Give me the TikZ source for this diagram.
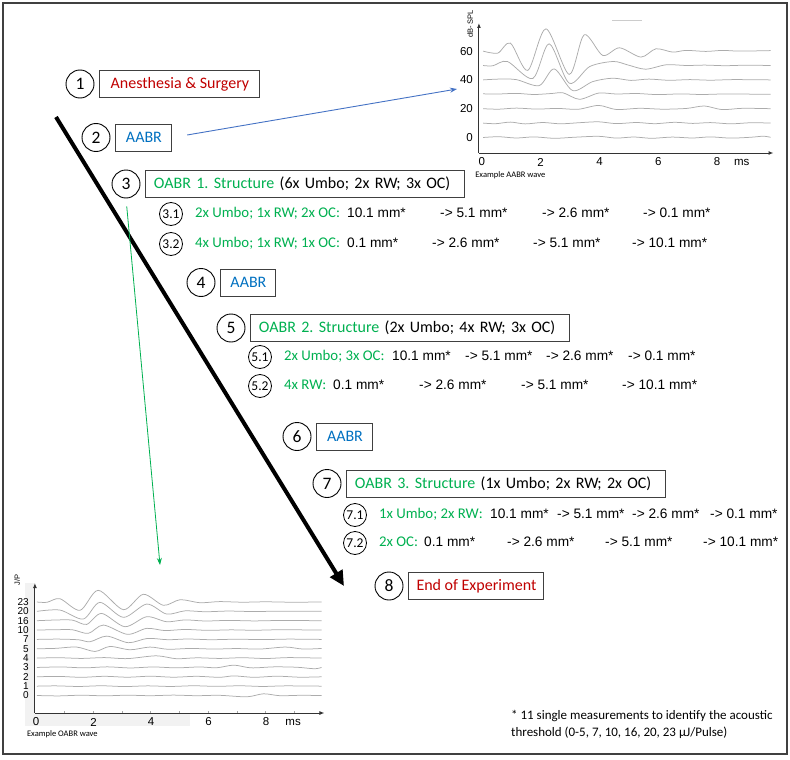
\documentclass[tikz,border=0pt]{standalone}
\usepackage{fontspec}
\setmainfont{Carlito}
\newfontfamily\arialfont{Liberation Sans}
\usepackage{xcolor}
\usetikzlibrary{arrows.meta,positioning}
\frenchspacing

\definecolor{stepred}{RGB}{192,0,0}
\definecolor{stepblue}{RGB}{0,112,192}
\definecolor{stepgreen}{RGB}{0,176,80}
\definecolor{linkblue}{RGB}{68,114,196}
\definecolor{wavegray}{RGB}{172,172,172}

\tikzset{
  stepnum/.style={circle, draw=black, line width=0.9pt, minimum size=28pt, inner sep=0pt, font=\fontsize{17.5}{20}\selectfont},
  subnum/.style={circle, draw=black, line width=0.8pt, minimum size=23pt, inner sep=0pt, font=\fontsize{13.5}{16}\selectfont},
  stepbox/.style={draw=black!75, line width=1pt, minimum height=27pt, inner sep=0pt, font=\fontsize{16}{19}\selectfont},
  structbox/.style={stepbox, text width=303pt, align=left, inner xsep=8pt},
  sublabel/.style={text=stepgreen, inner sep=0pt, text height=10pt, text depth=3pt, font=\fontsize{14.8}{17}\selectfont},
  measval/.style={anchor=west, inner sep=0pt, text height=10pt, text depth=3pt, font=\arialfont\fontsize{13.7}{16}\selectfont},
  wave/.style={wavegray, line width=0.75pt},
  plotaxis/.style={black!80, line width=1pt, -{Latex[length=5pt,width=4pt]}},
  aabrlabel/.style={inner sep=0pt, font=\arialfont\fontsize{11.5}{13}\selectfont},
  oabrlabel/.style={inner sep=0pt, font=\arialfont\fontsize{10}{11}\selectfont},
  axisname/.style={inner sep=0pt, rotate=90, font=\arialfont\fontsize{7.5}{8}\selectfont},
  plotcaption/.style={anchor=west, inner sep=0pt, font=\fontsize{8.5}{10}\selectfont},
  footnote/.style={anchor=north west, align=left, inner sep=0pt, font=\fontsize{13}{17}\selectfont},
}

\begin{document}
\begin{tikzpicture}[x=1pt, y=-1pt]
\useasboundingbox (0,0) rectangle (790,760);
\draw[black!75, line width=1.2pt] (3,3) rectangle (787,754);

% steps
\node[stepnum] (c1) at (80,84) {1};
\node[stepbox, minimum width=160pt, text=stepred, right=5pt of c1] (b1) {Anesthesia \& Surgery};
\node[stepnum] (c2) at (96,137.5) {2};
\node[stepbox, minimum width=56pt, text=stepblue, right=5pt of c2] (b2) {AABR};
\node[stepnum] (c3) at (126,184) {3};
\node[structbox, right=5pt of c3] (b3) {\textcolor{stepgreen}{OABR 1. Structure} (6x Umbo; 2x RW; 3x OC)};
\node[stepnum] (c4) at (201,282.5) {4};
\node[stepbox, minimum width=55pt, text=stepblue, right=5pt of c4] (b4) {AABR};
\node[stepnum] (c5) at (231,328) {5};
\node[structbox, right=5pt of c5] (b5) {\textcolor{stepgreen}{OABR 2. Structure} (2x Umbo; 4x RW; 3x OC)};
\node[stepnum] (c6) at (297,436.5) {6};
\node[stepbox, minimum width=56pt, text=stepblue, right=5pt of c6] (b6) {AABR};
\node[stepnum] (c7) at (327,483.5) {7};
\node[structbox, right=5pt of c7] (b7) {\textcolor{stepgreen}{OABR 3. Structure} (1x Umbo; 2x RW; 2x OC)};
\node[stepnum] (c8) at (389,586) {8};
\node[stepbox, minimum width=135pt, text=stepred, right=5pt of c8] (b8) {End of Experiment};

% sub steps
\node[subnum] (s31) at (171,214) {3.1};
\node[sublabel, right=12pt of s31] (l31) {2x Umbo; 1x RW; 2x OC:};
\foreach \x/\v [count=\i] in {347/10.1 mm*, 440/-> 5.1 mm*, 542/-> 2.6 mm*, 643/-> 0.1 mm*}
  \node[measval] (v31-\i) at (\x,214) {\v};
\node[subnum] (s32) at (171,244) {3.2};
\node[sublabel, right=12pt of s32] (l32) {4x Umbo; 1x RW; 1x OC:};
\foreach \x/\v [count=\i] in {347/0.1 mm*, 432/-> 2.6 mm*, 533/-> 5.1 mm*, 632/-> 10.1 mm*}
  \node[measval] (v32-\i) at (\x,244) {\v};

\node[subnum] (s51) at (260,357) {5.1};
\node[sublabel, right=12pt of s51] (l51) {2x Umbo; 3x OC:};
\foreach \x/\v [count=\i] in {392/10.1 mm*, 465/-> 5.1 mm*, 546/-> 2.6 mm*, 628/-> 0.1 mm*}
  \node[measval] (v51-\i) at (\x,357) {\v};
\node[subnum] (s52) at (260,386) {5.2};
\node[sublabel, right=12pt of s52] (l52) {4x RW:};
\foreach \x/\v [count=\i] in {333/0.1 mm*, 419/-> 2.6 mm*, 521/-> 5.1 mm*, 622/-> 10.1 mm*}
  \node[measval] (v52-\i) at (\x,386) {\v};

\node[subnum] (s71) at (355,515) {7.1};
\node[sublabel, right=12pt of s71] (l71) {1x Umbo; 2x RW:};
\foreach \x/\v [count=\i] in {490/10.1 mm*, 557/-> 5.1 mm*, 632/-> 2.6 mm*, 710/-> 0.1 mm*}
  \node[measval] (v71-\i) at (\x,515) {\v};
\node[subnum] (s72) at (355,543) {7.2};
\node[sublabel, right=12pt of s72] (l72) {2x OC:};
\foreach \x/\v [count=\i] in {424/0.1 mm*, 507/-> 2.6 mm*, 605/-> 5.1 mm*, 703/-> 10.1 mm*}
  \node[measval] (v72-\i) at (\x,543) {\v};

% time line and links
\coordinate (flowtop) at (56,117);
\coordinate (flowend) at (344,586);
\coordinate (aabrin) at (457,89);
\coordinate (oabrin) at (160,565);
\draw[line width=4pt, -{Triangle[length=15pt,width=14pt]}] (flowtop) -- (flowend);
\draw[linkblue, line width=0.9pt, -{Stealth[length=7pt,width=5pt]}, shorten <=15pt] (b2.east) -- (aabrin);
\draw[stepgreen, line width=0.8pt, -{Stealth[length=7pt,width=5pt]}, shorten <=8pt] (c3.south) -- (oabrin);

% AABR example
\draw[black!20, line width=0.8pt] (612,20) -- (642,20);
\begin{scope}[shift={(481,137.5)}, x=29.4pt, y=1pt]
  \draw[wave] plot[smooth] coordinates {(0.07,0) (0.6,0.8) (1.2,-0.5) (1.8,0.6) (2.5,-0.8) (3.2,0.3) (4.0,1.2) (4.6,-0.6) (5.2,0.5) (5.8,-0.8) (6.5,0.4) (7.2,-0.5) (7.8,0.6) (8.5,-0.6) (9.2,0.3) (9.6,1.3) (9.85,0.2)};
  \draw[wave, yshift=14.4pt] plot[smooth] coordinates {(0.07,0) (0.5,-0.6) (1.0,1.0) (1.5,-0.8) (2.1,0.6) (2.7,-0.7) (3.4,0.5) (4.0,1.3) (4.6,-0.5) (5.3,0.6) (5.9,-0.6) (6.6,0.8) (7.2,-0.3) (7.8,0.5) (8.5,-0.7) (9.2,0.4) (9.85,0)};
  \draw[wave, yshift=28.8pt] plot[smooth] coordinates {(0.07,0) (0.6,-0.5) (1.2,0.6) (1.9,-0.4) (2.6,0.3) (3.3,-0.6) (4.0,3.3) (4.6,-0.8) (5.4,0.4) (6.2,-0.5) (7.0,0.3) (7.6,2.7) (8.2,-0.9) (8.9,0.4) (9.85,0)};
  \draw[wave, yshift=43.2pt] plot[smooth] coordinates {(0.07,0.5) (0.5,0.2) (1.2,0.9) (1.8,-0.2) (2.4,0.8) (2.8,1.4) (3.35,-5) (4.0,1.2) (4.6,0.3) (5.3,0.8) (6.0,-0.3) (6.8,0.4) (7.5,-0.2) (8.3,0.3) (9.85,0)};
  \draw[wave, yshift=57.6pt] plot[smooth] coordinates {(0.07,0) (0.6,0.8) (1.2,0.3) (1.98,-5.7) (2.49,11) (3.12,-10.7) (3.8,-1.7) (4.48,1.7) (5.1,-0.5) (5.7,0.8) (6.4,-0.4) (7.1,0.3) (7.8,-0.3) (8.6,0.3) (9.85,0)};
  \draw[wave, yshift=72pt] plot[smooth] coordinates {(0.07,0) (0.4,-0.3) (0.9,4) (1.76,-13) (2.32,21.7) (3.0,-17.7) (3.7,-1) (4.5,4) (5.0,0.5) (5.6,-3.7) (6.3,0.7) (7.0,0) (7.6,0.4) (8.3,-0.2) (9.0,0.3) (9.85,0)};
  \draw[wave, yshift=86.4pt] plot[smooth] coordinates {(0.07,0) (0.57,-2) (1.0,8) (1.59,-19.3) (2.21,22.3) (3.0,-23.3) (3.51,16.3) (4.14,-4.3) (4.71,3.3) (5.44,-6) (5.95,2.3) (6.52,-1) (6.97,0.7) (7.65,-0.3) (8.22,0.7) (8.79,0) (9.85,0.5)};
  \draw[plotaxis] (-0.07,-15.5) -- (9.95,-15.5);
  \draw[plotaxis] (-0.07,-15.5) -- (-0.07,114.5);
  \foreach \t in {0,2,4,6,8}
    \node[aabrlabel] (ax-\t) at (\t+0.03,-24.5) {\t};
  \node[aabrlabel] (ax-ms) at (8.87,-24.5) {ms};
  \foreach \d [count=\k from 0] in {0,20,40,60}
    \node[aabrlabel, anchor=east] (ay-\k) at ({-0.27},{28.8*\k}) {\d};
  \node[axisname] (aname) at (-0.37,113.5) {dB- SPL};
  \node[plotcaption] (acap) at (-0.2,-37.5) {Example AABR wave};
\end{scope}

% OABR example
\fill[gray!10] (25,583) rectangle (35,726);
\fill[gray!10] (25,713) rectangle (190,726);
\begin{scope}[shift={(35.5,695.5)}, x=28.75pt, y=1pt]
  \draw[wave] plot[smooth] coordinates {(0.05,0) (0.8,-0.4) (1.6,0.3) (2.4,-0.3) (3.2,0.3) (4.0,-0.2) (4.8,0.4) (5.6,-0.2) (6.4,0.2) (7.35,-1.3) (7.93,1.7) (8.5,-0.2) (9.2,0.2) (9.95,0)};
  \draw[wave, yshift=9.35pt] plot[smooth] coordinates {(0.05,0) (0.7,0.3) (1.5,-0.3) (2.3,0.4) (3.1,-0.4) (3.9,0.3) (4.7,-0.3) (5.5,0.4) (6.3,-0.2) (7.1,0.4) (7.9,-0.3) (8.7,0.3) (9.95,0)};
  \draw[wave, yshift=18.7pt] plot[smooth] coordinates {(0.05,0) (0.8,0.4) (1.6,-0.5) (2.4,0.5) (3.2,-0.4) (4.0,0.6) (4.8,-0.4) (5.6,0.5) (6.4,-0.5) (6.9,0.9) (7.6,-0.5) (8.4,0.6) (9.2,-0.4) (9.95,0)};
  \draw[wave, yshift=28.05pt] plot[smooth] coordinates {(0.05,0) (0.9,0.5) (1.7,-0.4) (2.5,0.6) (3.3,-0.5) (4.1,0.5) (4.9,-0.4) (5.7,0.5) (6.3,-0.3) (6.9,2.3) (7.5,-0.4) (8.3,0.6) (9.1,0.2) (9.7,-1.3) (9.95,0)};
  \draw[wave, yshift=37.4pt] plot[smooth] coordinates {(0.05,0) (0.8,0.4) (1.6,-0.3) (2.4,0.5) (3.2,-0.5) (4.2,2.3) (4.9,-0.6) (5.6,0.3) (6.4,-0.3) (7.2,0.4) (8.0,-0.4) (8.8,0.5) (9.95,0)};
  \draw[wave, yshift=46.75pt] plot[smooth] coordinates {(0.05,0) (0.7,0.4) (1.43,1.7) (2.07,-2.7) (2.59,2.3) (3.29,-1) (3.98,1.7) (4.6,-0.5) (5.4,0.3) (6.2,-0.3) (7.0,0.2) (7.8,-0.3) (8.7,1.7) (9.3,-0.3) (9.95,0.3)};
  \draw[wave, yshift=56.1pt] plot[smooth] coordinates {(0.05,0) (0.8,0.3) (1.5,-0.4) (1.9,-2.3) (2.48,3.3) (3.23,-3.3) (3.9,1) (4.6,-0.3) (5.3,0.4) (6.1,-0.3) (7.0,0.2) (7.9,-0.2) (8.8,0.3) (9.95,0)};
  \draw[wave, yshift=65.45pt] plot[smooth] coordinates {(0.05,0) (0.8,0.4) (1.3,0.2) (1.84,-3.3) (2.36,5) (3.2,-4.3) (3.87,1.7) (4.5,-0.5) (5.2,0.6) (6.0,-0.3) (6.8,0.2) (7.6,-0.2) (8.5,0.3) (9.95,0)};
  \draw[wave, yshift=74.8pt] plot[smooth] coordinates {(0.05,0) (0.8,0.8) (1.3,0.5) (1.78,-3.7) (2.3,7.3) (3.11,-6) (3.87,4) (4.56,-1) (5.2,0.8) (5.9,-0.3) (6.7,0.3) (7.6,-0.2) (8.5,0.2) (9.95,0)};
  \draw[wave, yshift=84.15pt] plot[smooth] coordinates {(0.05,0) (0.85,1.3) (1.66,-7.7) (2.24,9) (3.06,-6) (3.87,7.3) (4.56,-2.7) (5.2,0.5) (5.9,-0.4) (6.7,0.3) (7.6,-0.2) (8.5,0.2) (9.95,0)};
  \draw[wave, yshift=93.5pt] plot[smooth] coordinates {(0.05,0) (0.4,-0.3) (0.85,3.3) (1.55,-8.3) (2.18,11.7) (3.06,-7.7) (3.75,7.7) (4.45,-3.3) (5.03,2.3) (5.72,-0.7) (6.4,0.4) (7.2,-0.2) (8.0,0.2) (8.9,-0.2) (9.95,0)};
  \foreach \t in {1,...,9}
    \draw[black!35, line width=0.5pt] (\t,-17.5) -- (\t,-15);
  \draw[plotaxis] (-0.02,-17.5) -- (10.05,-17.5);
  \draw[plotaxis] (-0.02,-17.5) -- (-0.02,112.5);
  \foreach \t in {0,2,4,6,8}
    \node[aabrlabel] (ox-\t) at (\t+0.02,-26.5) {\t};
  \node[aabrlabel] (ox-ms) at (8.96,-26.5) {ms};
  \foreach \lab [count=\k from 0] in {0,1,2,3,4,5,7,10,16,20,23}
    \node[oabrlabel, anchor=east] (oy-\k) at ({-0.226},{9.35*\k}) {\lab};
  \node[axisname] (oname) at (-0.64,115.5) {J/P};
  \node[plotcaption] (ocap) at (-0.3,-38.5) {Example OABR wave};
\end{scope}

\node[footnote] (note) at (511,710) {* 11 single measurements to identify the acoustic\\threshold (0-5, 7, 10, 16, 20, 23 µJ/Pulse)};
\end{tikzpicture}
\end{document}
